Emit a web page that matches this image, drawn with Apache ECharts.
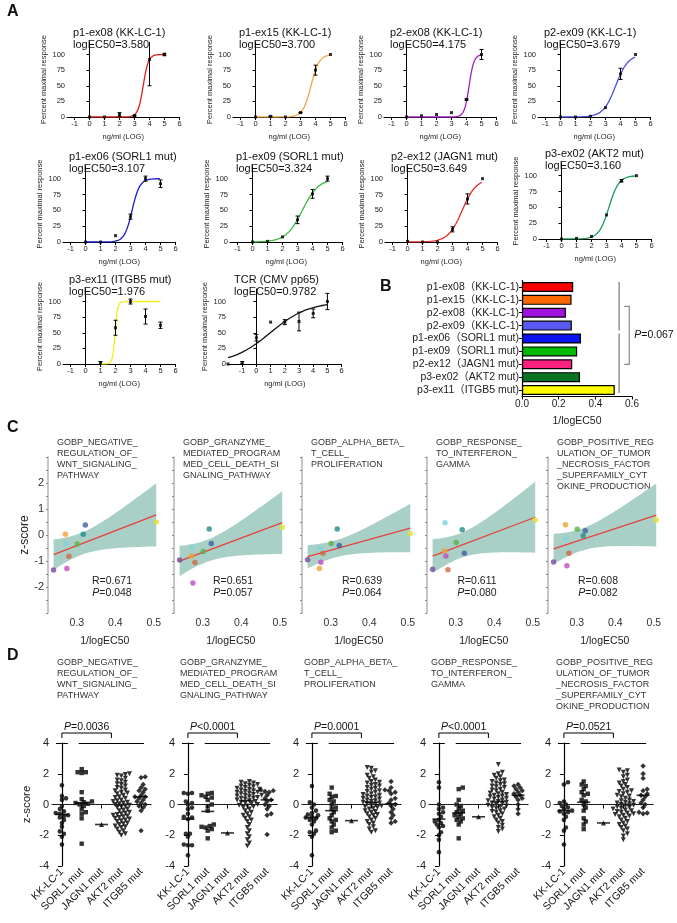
<!DOCTYPE html>
<html><head><meta charset="utf-8">
<script src="https://cdn.jsdelivr.net/npm/echarts@6/dist/echarts.min.js"></script>
<style>html,body{margin:0;padding:0;background:#fff}#c{width:677px;height:923px}</style>
</head><body><div id="c"></div>
<script>
const FONT = "'Liberation Sans','Noto Sans CJK SC',Arial,sans-serif";

// ---------------- Panel A data ----------------
const doseNames = ['p1-ex08 (KK-LC-1)','p1-ex15 (KK-LC-1)','p2-ex08 (KK-LC-1)','p2-ex09 (KK-LC-1)',
  'p1-ex06 (SORL1 mut)','p1-ex09 (SORL1 mut)','p2-ex12 (JAGN1 mut)','p3-ex02 (AKT2 mut)',
  'p3-ex11 (ITGB5 mut)','TCR (CMV pp65)'];
const logEC50Text = ['3.580','3.700','4.175','3.679','3.107','3.324','3.649','3.160','1.976','0.9782'];
const logEC50 = [3.580,3.700,4.175,3.679,3.107,3.324,3.649,3.160,1.976,0.9782];
const hillSlope = [2.5,1.6,2.7,1.05,1.7,0.8,0.93,1.3,5,0.32];
const curveTop = [100,100,100,100,100,100,100,100,100,100];
const curveBottom = [0,0,0,0,0,0,0,0,0,0];
const curveFrom = [0,0,0,0,0,0,0,0,1,-2];
const curveTo = [5,5,5,5,5,5,5,5,5,5];
const doseX = [[0,1,2,3,4,5],[0,1,2,3,4,5],[0,1,2,3,4,5],[0,1,2,3,4,5],
  [0,1,2,3,4,5],[0,1,2,3,4,5],[0,1,2,3,4,5],[0,1,2,3,4,5],[1,2,3,4,5],[-2,-1,0,1,2,3,4,5]];
const doseMean = [[0,0,4,2,92,100],[0,1,0,7,75,100],[0,2,4,7,28,100],[0,0,1,15,69,100],
  [0,0,10,40,100,92],[0,1,8,35,76,100],[1,0,0,20,68,100],[0,1,4,38,92,100],
  [1,58,100,76,62],[0,2,42,67,67,68,81,100]];
const doseErr = [[0,0,3,1,42,2],[0,0.5,0,0.5,8,0],[0,0,0,0,1,8],[0,0,0,0,9,0],
  [0,0,0,4,4,6],[0,0,0,6,7,4],[0,0,0,4,8,0],[0,0,0,0,2,0],
  [3,12,4,12,5],[0,2,5,0,4,15,7,13]];
const curveColors = ['#dd1f1a','#f5a445','#a21fc6','#4f4fe0','#1a1ad2','#3cbc3c','#e62a2a','#1a9a5c','#f2ee1c','#111111'];

// ---------------- Panel B data ----------------
const peptideLabels = ['p1-ex08（KK-LC-1)','p1-ex15（KK-LC-1)','p2-ex08（KK-LC-1)','p2-ex09（KK-LC-1)',
  'p1-ex06（SORL1 mut)','p1-ex09（SORL1 mut)','p2-ex12（JAGN1 mut)','p3-ex02（AKT2 mut)','p3-ex11（ITGB5 mut)'];
const barColors = ['#ff0000','#ff6a00','#a012e0','#5a5af2','#0a14f0','#00bb00','#ff2080','#0a7424','#ffff00'];
const bPText = '=0.067';

// ---------------- Panel C data ----------------
const pathwayTitles = [
  'GOBP_NEGATIVE_\nREGULATION_OF_\nWNT_SIGNALING_\nPATHWAY',
  'GOBP_GRANZYME_\nMEDIATED_PROGRAM\nMED_CELL_DEATH_SI\nGNALING_PATHWAY',
  'GOBP_ALPHA_BETA_\nT_CELL_\nPROLIFERATION',
  'GOBP_RESPONSE_\nTO_INTERFERON_\nGAMMA',
  'GOBP_POSITIVE_REG\nULATION_OF_TUMOR\n_NECROSIS_FACTOR\n_SUPERFAMILY_CYT\nOKINE_PRODUCTION'];
// z-scores per pathway, in peptide order of panel B
const zPath1 = [-0.82,0.03,-1.35,-0.34,0.38,-0.35,-1.29,0.03,0.50];
const zPath2 = [-1.06,-0.81,-0.96,-0.46,-0.33,-0.63,-1.85,0.23,0.30];
const zPath3 = [-0.70,-1.29,-0.95,-0.50,-0.40,-0.33,-1.05,0.23,0.06];
const zPath4 = [-1.34,-0.62,-1.32,0.47,-0.70,-0.29,-0.81,0.20,0.58];
const zPath5 = [-0.70,0.39,-1.04,-0.16,0.16,0.22,-1.18,-0.03,0.58];
const corrR = ['0.671','0.651','0.639','0.611','0.608'];
const corrP = ['0.048','0.057','0.064','0.080','0.082'];
const pointColors = ['#cf6a45','#f5a030','#7a4aa0','#80d2df','#3f5fa8','#5cb04a','#c04cc0','#1f8f8a','#e6e030'];
const cXTicks = [0.3,0.4,0.5];
const cYTicks = [-2,-1,0,1,2];

// ---------------- Panel D data ----------------
const groupNames = ['KK-LC-1','SORL1 mut','JAGN1 mut','AKT2 mut','ITGB5 mut'];
const dKK = [
  [1.25,0.55,0.4,0.3,-0.1,-0.3,-0.45,-0.55,-0.6,-0.7,-0.75,-0.85,-1.0,-1.2,-1.45,-1.75,-1.9,-2.1,-2.6],
  [0.75,0.75,0.7,0.2,0.1,0.0,-0.2,-0.3,-0.6,-0.8,-0.85,-0.95,-1.9,-1.9,-2.1,-2.6,-2.65,-2.65,-3.3],
  [1.2,0.15,0.0,-0.2,-0.4,-0.55,-0.65,-0.7,-0.8,-0.85,-0.9,-1.0,-1.1,-1.3,-1.7,-1.8,-1.9,-2.1,-3.3],
  [1.45,1.1,0.0,-0.2,-0.3,-0.5,-0.6,-0.8,-1.0,-1.1,-1.2,-1.3,-1.4,-1.5,-1.8,-2.0,-2.3,-3.1],
  [1.45,1.3,0.2,0.1,0.0,-0.1,-0.2,-0.3,-0.4,-0.45,-0.5,-0.6,-0.8,-1.0,-1.5,-1.7,-2.6]];
const dSORL1 = [
  [2.3,2.1,2.1,2.05,0.8,0.35,0.2,0.15,0.1,0.05,0.0,-0.1,-0.3,-0.5,-0.6,-0.9,-2.55],
  [0.75,0.7,0.6,0.5,0.45,0.3,0.0,-0.1,-0.4,-1.3,-1.4,-1.45,-1.5,-1.6,-1.7,-2.2],
  [1.1,0.7,0.55,0.5,0.3,0.2,0.0,-0.2,-0.3,-0.5,-0.7,-0.9,-1.0,-1.1,-1.3,-1.5,-1.7,-1.8],
  [1.1,1.0,0.3,0.0,-0.1,-0.3,-0.4,-0.5,-0.6,-0.7,-0.8,-0.9,-1.0,-1.1,-1.3,-2.2],
  [1.5,1.3,1.2,1.0,0.8,0.7,0.6,0.3,0.2,0.0,-0.2,-0.4,-0.9,-1.1,-1.3,-1.6]];
const dJAGN1 = [[-1.3],[-1.85],[-1.05],[-0.8],[-1.2]];
const dAKT2 = [
  [2.0,1.95,1.9,1.85,1.7,1.6,1.55,1.45,1.35,1.3,1.2,1.1,1.05,0.95,0.9,0.8,0.75,0.7,0.6,0.5,0.45,0.4,0.3,0.25,0.2,0.1,0.05,0.0,-0.05,-0.1,-0.15,-0.2,-0.3,-0.35,-0.4,-0.5,-0.55,-0.6,-0.7,-0.75,-0.8,-0.9,-0.95,-1.0,-1.05,-1.1,-1.2,-1.25,-1.3,-1.4,-1.45,-1.5,-1.6,-1.7,-1.8,-1.9,-2.0,-0.65,-0.85,0.15],
  [1.5,1.45,1.4,1.35,1.3,1.25,1.2,1.15,1.1,1.05,1.0,0.95,0.9,0.85,0.8,0.75,0.7,0.65,0.6,0.55,0.5,0.45,0.4,0.35,0.3,0.25,0.2,0.15,0.1,0.05,0.0,-0.05,-0.1,-0.15,-0.2,-0.3,-0.4,-0.5,-0.6,-0.7,-0.8,-0.9,-1.0,-1.1,-1.3,-1.5,-1.7,-1.9,-2.1,-2.3,-2.5,-2.7,1.0,0.8,0.6,0.4],
  [2.4,2.35,2.2,2.1,1.9,1.8,1.7,1.6,1.5,1.45,1.4,1.3,1.25,1.2,1.1,1.05,1.0,0.9,0.85,0.8,0.7,0.65,0.6,0.5,0.45,0.4,0.3,0.25,0.2,0.1,0.05,0.0,-0.05,-0.1,-0.2,-0.25,-0.3,-0.4,-0.45,-0.5,-0.6,-0.65,-0.7,-0.8,-0.9,-1.0,-1.1,-1.2,-1.3,-1.45,-1.6,-1.7,-1.8,0.55,0.35,0.15,-0.15],
  [2.6,2.1,2.0,1.9,1.8,1.7,1.6,1.55,1.5,1.4,1.35,1.3,1.2,1.15,1.1,1.0,0.95,0.9,0.8,0.75,0.7,0.6,0.55,0.5,0.4,0.35,0.3,0.2,0.15,0.1,0.0,-0.05,-0.1,-0.2,-0.25,-0.3,-0.4,-0.45,-0.5,-0.6,-0.7,-0.8,-0.9,-1.0,-1.1,-1.2,-1.35,-1.5,-1.6,-1.75,0.65,0.45,0.25,0.05,-0.15],
  [2.25,2.2,2.1,1.9,1.8,1.6,1.5,1.4,1.3,1.2,1.1,1.0,0.9,0.85,0.8,0.7,0.6,0.55,0.5,0.4,0.3,0.25,0.2,0.1,0.05,0.0,-0.05,-0.1,-0.15,-0.2,-0.3,-0.35,-0.4,-0.5,-0.55,-0.6,-0.7,-0.75,-0.8,-0.9,-1.0,-1.1,-1.2,-1.3,-1.4,-1.5,-1.6,-1.7,-1.9,-2.05,-2.3,-0.25,-0.45,-0.65,0.15]];
const dITGB5 = [
  [1.8,1.75,1.3,1.1,1.0,0.9,0.8,0.6,0.5,0.5,0.4,0.3,0.2,0.1,0.0,-0.1,-0.2,-0.4,-1.7],
  [1.0,0.95,0.9,0.85,0.8,0.6,0.4,0.3,0.2,0.0,-0.1,-0.3,-0.6,-0.7,-1.95],
  [1.5,1.1,0.95,0.9,0.8,0.7,0.4,0.3,0.1,0.0,-0.1,-0.3,-0.5,-0.7,-0.9,-1.1,-1.2],
  [1.3,1.2,1.1,1.0,0.9,0.8,0.7,0.6,0.5,0.4,0.3,0.0,-0.3,-0.6],
  [2.5,2.0,1.7,1.0,0.9,0.7,0.6,0.5,0.3,0.1,0.0,-0.2,-0.5,-0.55,-0.6]];
const dGroupMeans = [[-0.65,0.1,-1.3,0.0,0.5],[-0.95,-0.45,-1.85,0.25,0.3],[-0.85,-0.4,-1.05,0.15,0.05],
  [-0.95,-0.55,-0.8,0.2,0.6],[-0.4,0.15,-1.2,0.0,0.6]];
const dPText = ['=0.0036','<0.0001','=0.0001','<0.0001','=0.0521'];

// ================= build =================
const grids = [], xAxes = [], yAxes = [], series = [], graphics = [];
const txt = (x, y, text, size, extra) => Object.assign({type:'text', x, y, silent:true,
  style: Object.assign({text, fill:'#111', font: size + 'px ' + FONT}, extra || {})});

graphics.push(txt(7, 4, 'A', 16, {font:'bold 16px ' + FONT}));
graphics.push(txt(380, 279, 'B', 16, {font:'bold 16px ' + FONT}));
graphics.push(txt(7, 420, 'C', 16, {font:'bold 16px ' + FONT}));
graphics.push(txt(7, 648, 'D', 16, {font:'bold 16px ' + FONT}));

// ---- Panel A
const aGrid = [[67,42,75],[233,42,75],[384,42,75],[538,42,75],
  [63,166,76],[230,166,76],[385,166,76],[539,163,76],[63,289,75],[228,289,75]];
function errRender(params, api) {
  const x = api.value(0), m = api.value(1), e = api.value(2);
  if (!(e > 0)) return null;
  const lo = api.coord([x, m - e]), hi = api.coord([x, m + e]);
  const st = {stroke:'#000', lineWidth:1};
  return {type:'group', children:[
    {type:'line', shape:{x1:lo[0],y1:lo[1],x2:hi[0],y2:hi[1]}, style:st},
    {type:'line', shape:{x1:lo[0]-2,y1:lo[1],x2:lo[0]+2,y2:lo[1]}, style:st},
    {type:'line', shape:{x1:hi[0]-2,y1:hi[1],x2:hi[0]+2,y2:hi[1]}, style:st}]};
}
for (let k = 0; k < doseNames.length; k++) {
  const [L, T, H] = aGrid[k];
  const xmin = Math.min(...doseX[k]) < -1 ? -2 : -1.5;
  const W = xmin === -2 ? 113.6 : 112.5;
  const gi = grids.length;
  grids.push({left:L, top:T, width:W, height:H});
  xAxes.push({gridIndex:gi, type:'value', min:xmin, max:6,
    axisLine:{lineStyle:{color:'#000', width:1}},
    axisTick:{show:true, length:3, customValues:[-1,0,1,2,3,4,5,6], lineStyle:{color:'#000'}},
    axisLabel:{customValues:[-1,0,1,2,3,4,5,6], fontSize:7.5, color:'#222', margin:3, fontFamily:FONT},
    splitLine:{show:false},
    name:'ng/ml (LOG)', nameLocation:'middle', nameGap:16, nameTextStyle:{fontSize:7.5, color:'#222', fontFamily:FONT}});
  yAxes.push({gridIndex:gi, type:'value', min:0, max:120,
    axisLine:{show:true, lineStyle:{color:'#000', width:1}},
    axisTick:{show:true, length:3, customValues:[0,25,50,75,100], lineStyle:{color:'#000'}},
    axisLabel:{customValues:[0,25,50,75,100], fontSize:7.5, color:'#222', margin:2, fontFamily:FONT},
    splitLine:{show:false},
    name:'Percent maximal response', nameLocation:'middle', nameGap:19, nameTextStyle:{fontSize:7.5, color:'#222', fontFamily:FONT}});
  const ai = xAxes.length - 1;
  const pts = [];
  for (let x = curveFrom[k]; x <= curveTo[k] + 1e-9; x += 0.02) {
    pts.push([x, curveBottom[k] + (curveTop[k] - curveBottom[k]) / (1 + Math.pow(10, (logEC50[k] - x) * hillSlope[k]))]);
  }
  series.push({type:'line', xAxisIndex:ai, yAxisIndex:ai, data:pts, showSymbol:false, symbol:'none',
    lineStyle:{color:curveColors[k], width:1.3}, silent:true, z:2});
  series.push({type:'custom', xAxisIndex:ai, yAxisIndex:ai, clip:true, renderItem:errRender, silent:true, z:3,
    data: doseX[k].map((x, i) => [x, doseMean[k][i], doseErr[k][i]])});
  series.push({type:'scatter', xAxisIndex:ai, yAxisIndex:ai, symbol:'rect', symbolSize:3, silent:true, z:4,
    itemStyle:{color:'#000'}, data: doseX[k].map((x, i) => [x, doseMean[k][i]])});
  graphics.push(txt(L + 6, T - 14.5, doseNames[k] + '\nlogEC50=' + logEC50Text[k], 11, {lineHeight:11.5, verticalAlign:'top'}));
}

// ---- Panel B
const bGi = grids.length;
grids.push({left:522, top:280.5, width:110, height:116});
xAxes.push({gridIndex:bGi, type:'value', min:0, max:0.6, interval:0.2,
  axisLine:{show:true, lineStyle:{color:'#000', width:1.2}}, axisTick:{show:true, length:3, lineStyle:{color:'#000'}},
  axisLabel:{fontSize:10, color:'#222', margin:3, fontFamily:FONT, formatter:v => v.toFixed(1)},
  splitLine:{show:false}, name:'1/logEC50', nameLocation:'middle', nameGap:19,
  nameTextStyle:{fontSize:10.5, color:'#222', fontFamily:FONT}});
yAxes.push({gridIndex:bGi, type:'category', inverse:true, data:peptideLabels,
  axisLine:{show:true, lineStyle:{color:'#000', width:1.2}}, axisTick:{show:true, length:3, alignWithLabel:true, interval:0, lineStyle:{color:'#000'}},
  axisLabel:{interval:0, fontSize:10.5, color:'#222', margin:3, fontFamily:FONT}});
const bAi = xAxes.length - 1;
const bSeriesIndex = series.length;
series.push({type:'bar', xAxisIndex:bAi, yAxisIndex:bAi, barWidth:10, silent:true,
  data: logEC50.slice(0, 9).map((v, i) => ({value: 1 / v, itemStyle:{color:barColors[i], borderColor:'#000', borderWidth:1.2}}))});

// ---- Panel C
const cLeft = [48,174,302,427,548];
const cTextX = [112,233,362,477,598];
const zPaths = [zPath1, zPath2, zPath3, zPath4, zPath5];
const corrX = logEC50.slice(0, 9).map(v => 1 / v);
const T_CRIT = 2.365; // t(0.975, df=7)
const halfTicks = [-3,-2.5,-2,-1.5,-1,-0.5,0,0.5,1,1.5,2,2.5,3];
for (let p = 0; p < 5; p++) {
  const gi = grids.length;
  grids.push({left:cLeft[p], top:457, width:113.6, height:156});
  xAxes.push({gridIndex:gi, type:'value', min:0.225, max:0.52,
    axisLine:{show:false}, axisTick:{show:false}, splitLine:{show:false},
    axisLabel:{customValues:cXTicks, fontSize:10.5, color:'#333', margin:5, fontFamily:FONT, formatter:v => v.toFixed(1)},
    name:'1/logEC50', nameLocation:'middle', nameGap:23, nameTextStyle:{fontSize:10.5, color:'#222', fontFamily:FONT}});
  yAxes.push({gridIndex:gi, type:'value', min:-3, max:3,
    axisLine:{show:true, lineStyle:{color:'#b3b3b3', width:1.5}},
    axisTick:{show:true, length:2, customValues:halfTicks, lineStyle:{color:'#888'}},
    axisLabel:{show:p === 0, customValues:cYTicks, fontSize:11, color:'#333', margin:4, fontFamily:FONT},
    splitLine:{show:false},
    name:p === 0 ? 'z-score' : '', nameLocation:'middle', nameGap:17, nameTextStyle:{fontSize:12, color:'#222', fontFamily:FONT}});
  const ai = xAxes.length - 1;
  const xs = corrX, ys = zPaths[p], n = xs.length;
  const mx = xs.reduce((a, b) => a + b, 0) / n, my = ys.reduce((a, b) => a + b, 0) / n;
  let sxx = 0, sxy = 0;
  for (let i = 0; i < n; i++) { sxx += (xs[i] - mx) ** 2; sxy += (xs[i] - mx) * (ys[i] - my); }
  const b = sxy / sxx, a = my - b * mx;
  let sse = 0;
  for (let i = 0; i < n; i++) sse += (ys[i] - a - b * xs[i]) ** 2;
  const s = Math.sqrt(sse / (n - 2));
  const x0 = Math.min(...xs), x1 = Math.max(...xs);
  const upper = [], lower = [];
  for (let j = 0; j <= 60; j++) {
    const x = x0 + (x1 - x0) * j / 60;
    const yhat = a + b * x;
    const h = T_CRIT * s * Math.sqrt(1 / n + (x - mx) ** 2 / sxx);
    upper.push([x, yhat + h]); lower.push([x, yhat - h]);
  }
  series.push({type:'custom', xAxisIndex:ai, yAxisIndex:ai, silent:true, z:1, data:[[mx, my]],
    renderItem:(params, api) => ({type:'polygon',
      shape:{points: upper.map(q => api.coord(q)).concat(lower.slice().reverse().map(q => api.coord(q)))},
      style:{fill:'#a9d0c6'}})});
  series.push({type:'line', xAxisIndex:ai, yAxisIndex:ai, silent:true, z:2, symbol:'none', showSymbol:false,
    data:[[x0, a + b * x0], [x1, a + b * x1]], lineStyle:{color:'#e8413c', width:1.3}});
  series.push({type:'scatter', xAxisIndex:ai, yAxisIndex:ai, silent:true, z:3, symbolSize:5.5,
    data: xs.map((x, i) => ({value:[x, ys[i]], itemStyle:{color:pointColors[i]}}))});
  graphics.push(txt(cLeft[p] + 9, 437.5, pathwayTitles[p], 9, {fill:'#333', lineHeight:10.8, verticalAlign:'top'}));
  graphics.push(txt(cTextX[p], 581, 'R=' + corrR[p], 10.5, {align:'center', verticalAlign:'middle', fill:'#222'}));
  graphics.push(txt(cTextX[p], 593.5, '{i|P}=' + corrP[p], 10.5, {align:'center', verticalAlign:'middle', fill:'#222',
    rich:{i:{fontStyle:'italic', fontSize:10.5, fontFamily:FONT, fill:'#222'}}}));
}

// ---- Panel D
const dLeft = [52,178,302,429,554];
const PX_Y = 123 / 8, PX_X = 19.8, DOT = 4.1;
function swarm(values) {
  const order = values.map((v, i) => i).sort((i, j) => values[i] - values[j]);
  const placed = [], off = new Array(values.length).fill(0);
  for (const i of order) {
    const y = values[i] * PX_Y;
    let best = 0;
    for (let k = 0; k < 80; k++) {
      const cand = k === 0 ? 0 : (k % 2 ? 1 : -1) * Math.ceil(k / 2) * DOT * 0.5;
      let ok = true;
      for (const q of placed) { const dx = q.x - cand, dy = q.y - y; if (dx * dx + dy * dy < DOT * DOT * 0.7) { ok = false; break; } }
      if (ok) { best = cand; break; }
    }
    placed.push({x:best, y}); off[i] = best / PX_X;
  }
  return off;
}
const groupData = [dKK, dSORL1, dJAGN1, dAKT2, dITGB5];
const groupSymbols = ['circle', 'rect', 'triangle', 'path://M0,0 L10,0 L5,9 Z', 'diamond'];
const groupSizes = [4.6, 4.4, 5, 5, 5.4];
const dMeanSeries = [];
for (let p = 0; p < 5; p++) {
  const gi = grids.length;
  grids.push({left:dLeft[p], top:743, width:99, height:123});
  xAxes.push({gridIndex:gi, type:'category', data:groupNames,
    axisLine:{show:true, lineStyle:{color:'#000', width:1.2}},
    axisTick:{show:true, length:4, alignWithLabel:true, lineStyle:{color:'#000'}},
    axisLabel:{rotate:45, interval:0, fontSize:10.5, color:'#111', margin:4, fontFamily:FONT}});
  xAxes.push({gridIndex:gi, type:'value', min:-0.5, max:4.5, show:false});
  const valAx = xAxes.length - 1;
  yAxes.push({gridIndex:gi, type:'value', min:-4, max:4, interval:2,
    axisLine:{show:true, lineStyle:{color:'#000', width:1.2}},
    axisTick:{show:true, length:4, lineStyle:{color:'#000'}},
    axisLabel:{fontSize:11, color:'#222', margin:3, fontFamily:FONT},
    splitLine:{show:false},
    name:p === 0 ? 'z-score' : '', nameLocation:'middle', nameGap:19, nameTextStyle:{fontSize:11.5, color:'#222', fontFamily:FONT}});
  const yAx = yAxes.length - 1;
  for (let g = 0; g < 5; g++) {
    const vals = groupData[g][p];
    const off = swarm(vals);
    series.push({type:'scatter', xAxisIndex:valAx, yAxisIndex:yAx, silent:true, z:3,
      symbol:groupSymbols[g], symbolSize:groupSizes[g], itemStyle:{color:'#000'},
      data: vals.map((v, i) => [g + off[i], v])});
  }
  dMeanSeries.push(series.length);
  series.push({type:'scatter', xAxisIndex:valAx, yAxisIndex:yAx, silent:true, z:4,
    symbol:'rect', symbolSize:[13, 1.6], itemStyle:{color:'#000'},
    data: dGroupMeans[p].map((m, g) => [g, m]),
    markLine:{silent:true, symbol:'none', label:{show:false}, animation:false,
      data:[
        {yAxis:0, lineStyle:{type:'dotted', color:'#444', width:0.9}},
        [{coord:[-0.3, 4], lineStyle:{type:'solid', color:'#000', width:1}}, {coord:[0.3, 4]}],
        [{coord:[0.85, 4], lineStyle:{type:'solid', color:'#000', width:1}}, {coord:[4.15, 4]}]
      ]}});
  graphics.push(txt(dLeft[p] + (p === 0 ? 5 : 2), 657.5, pathwayTitles[p], 9, {fill:'#333', lineHeight:10.8, verticalAlign:'top'}));
}

const chart = echarts.init(document.getElementById('c'), null, {renderer:'canvas'});
chart.setOption({
  animation:false, backgroundColor:'#fff',
  textStyle:{fontFamily:FONT},
  grid:grids, xAxis:xAxes, yAxis:yAxes, series:series
});

// annotations placed through the axes
const dyn = [];
{
  const c = (v, cat) => chart.convertToPixel({seriesIndex:bSeriesIndex}, [v, cat]);
  const gray = {stroke:'#8a8a8a', lineWidth:1.4};
  const l1a = c(0.53, 0), l1b = c(0.53, 3), l2a = c(0.53, 4), l2b = c(0.53, 8);
  dyn.push({type:'line', silent:true, shape:{x1:l1a[0], y1:l1a[1]-5, x2:l1b[0], y2:l1b[1]+5}, style:gray});
  dyn.push({type:'line', silent:true, shape:{x1:l2a[0], y1:l2a[1]-5, x2:l2b[0], y2:l2b[1]+3}, style:gray});
  const t1 = c(0.585, 1), t2 = c(0.585, 2), t3 = c(0.585, 6);
  const yTop = (t1[1] + t2[1]) / 2, yBot = t3[1], bx = t1[0];
  dyn.push({type:'polyline', silent:true, shape:{points:[[bx-5, yTop], [bx, yTop], [bx, yBot], [bx-5, yBot]]},
    style:{stroke:'#8a8a8a', lineWidth:1.2, fill:null}});
  dyn.push(txt(bx + 5, (yTop + yBot) / 2, '{i|P}' + bPText, 10.5, {verticalAlign:'middle',
    rich:{i:{fontStyle:'italic', fontSize:10.5, fontFamily:FONT, fill:'#111'}}}));
}
for (let p = 0; p < 5; p++) {
  const c = (x, y) => chart.convertToPixel({seriesIndex:dMeanSeries[p]}, [x, y]);
  const a = c(0, 4), b = c(2.5, 4);
  dyn.push({type:'polyline', silent:true, shape:{points:[[a[0], a[1]-5], [a[0], a[1]-10], [b[0], b[1]-10], [b[0], b[1]-5]]},
    style:{stroke:'#000', lineWidth:1, fill:null}});
  dyn.push(txt((a[0] + b[0]) / 2, a[1] - 16, '{i|P}' + dPText[p], 10.5, {align:'center', verticalAlign:'middle',
    rich:{i:{fontStyle:'italic', fontSize:10.5, fontFamily:FONT, fill:'#111'}}}));
}
chart.setOption({graphic: graphics.concat(dyn)});
</script>
</body></html>
